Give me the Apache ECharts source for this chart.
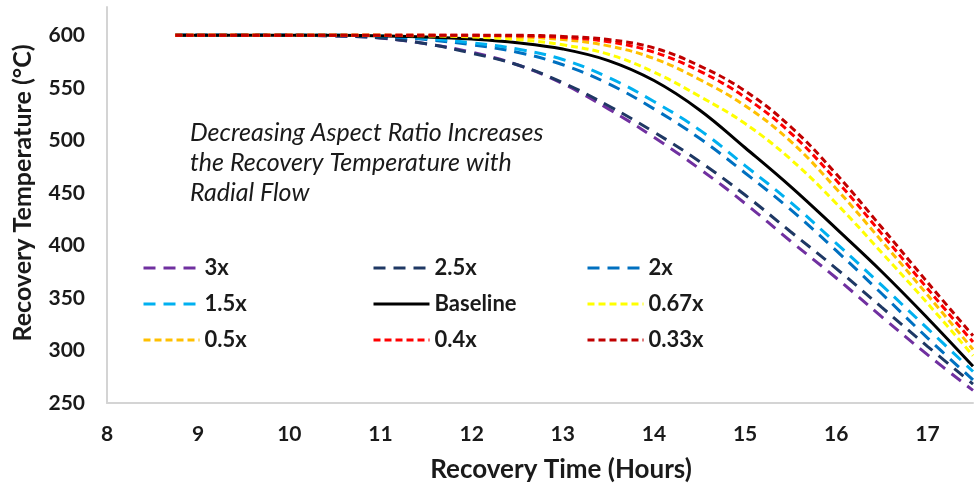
<!DOCTYPE html>
<html>
<head>
<meta charset="utf-8">
<script src="https://cdn.jsdelivr.net/npm/echarts@6/dist/echarts.min.js"></script>
<style>
  html, body { margin: 0; padding: 0; background: #fff; }
  #chart { width: 976px; height: 491px; }
</style>
</head>
<body>
<div id="chart"></div>
<script>
// 恢复时间（小时）
var hours = [8.75, 9, 9.5, 10, 10.5, 11, 11.5, 12, 12.5, 13, 13.5, 14, 14.5, 15, 15.5, 16, 16.5, 17, 17.5]

// 各纵横比下的恢复温度 (°C)
var temp3x     = [600, 600, 600, 600, 599.5, 597.5, 592, 584, 572, 554, 530, 503, 473, 440, 404, 369, 332, 296, 262]
var temp2_5x   = [600, 600, 600, 600, 599.5, 597.5, 592, 583, 572, 555, 533, 508, 480, 448, 413, 378, 341, 304, 268]
var temp2x     = [600, 600, 600, 600, 600, 599, 596, 591, 584, 572, 554, 530, 502, 469, 434, 395, 354, 312, 272]
var temp1_5x   = [600, 600, 600, 600, 600, 599.5, 597, 593, 587, 577, 560, 537, 510, 476, 441, 402, 362, 321, 280]
var tempBase   = [600, 600, 600, 600, 600, 599.5, 598.5, 596.5, 593, 587, 576, 557, 529, 493, 456, 416, 375, 331, 285]
var temp0_67x  = [600, 600, 600, 600, 600, 600, 599.5, 598.5, 596, 591, 582, 565, 542, 516, 482, 440, 393, 345, 295]
var temp0_5x   = [600, 600, 600, 600, 600, 600, 600, 599.5, 598.5, 596, 590, 578, 558, 533, 499, 454, 404, 353, 301]
var temp0_4x   = [600, 600, 600, 600, 600, 600, 600, 600, 599.5, 598, 594, 584, 566, 541, 507, 462, 411, 359, 308]
var temp0_33x  = [600, 600, 600, 600, 600, 600, 600, 600, 600, 599, 596, 588, 571, 547, 513, 468, 417, 365, 314]

var xTicks = [8, 9, 10, 11, 12, 13, 14, 15, 16, 17]
var yTicks = [250, 300, 350, 400, 450, 500, 550, 600]

var FONT = 'Lato, "Open Sans", sans-serif'
var longDash = [12, 8]
var shortDash = [7, 4]

function pairs(arr) {
  return hours.map(function (h, i) { return [h, arr[i]] })
}

function makeSeries(name, arr, color, dash) {
  return {
    name: name,
    type: 'line',
    data: pairs(arr),
    smooth: 0.4,
    symbol: 'none',
    color: color,
    lineStyle: { color: color, width: 3, type: dash },
    emphasis: { disabled: true }
  }
}

var chart = echarts.init(document.getElementById('chart'))

var legendBase = {
  orient: 'vertical',
  top: 257,
  padding: 0,
  itemWidth: 56,
  itemHeight: 14,
  itemGap: 14,
  itemStyle: { opacity: 0 },
  lineStyle: { width: 3 },
  textStyle: { fontFamily: FONT, fontSize: 22, fontWeight: 'bold', color: '#1a1a1a', lineHeight: 21 }
}

var option = {
  animation: false,
  backgroundColor: '#fff',
  grid: { left: 107, right: 0, top: 7, bottom: 88 },
  xAxis: {
    type: 'value',
    min: 8,
    max: 17.5,
    interval: 1,
    name: 'Recovery Time (Hours)',
    nameLocation: 'middle',
    nameGap: 54,
    nameTextStyle: { fontFamily: FONT, fontSize: 26, fontWeight: 'bold', color: '#1a1a1a', padding: [0, 0, 0, 42] },
    axisLine: { show: true, lineStyle: { color: '#d4d4d4', width: 2 } },
    axisTick: { show: false },
    splitLine: { show: false },
    axisLabel: {
      margin: 21,
      fontFamily: FONT, fontSize: 21, fontWeight: 'bold', color: '#1a1a1a',
      formatter: function (v) { return xTicks.indexOf(v) >= 0 ? String(v) : '' }
    }
  },
  yAxis: {
    type: 'value',
    min: 250,
    max: 627,
    interval: 50,
    name: 'Recovery Temperature (°C)',
    nameLocation: 'middle',
    nameGap: 72,
    nameTextStyle: { fontFamily: FONT, fontSize: 25, fontWeight: 'bold', color: '#1a1a1a', padding: [0, 0, 0, 24] },
    axisLine: { show: true, lineStyle: { color: '#d4d4d4', width: 2 } },
    axisTick: { show: false },
    splitLine: { show: false },
    axisLabel: {
      margin: 22,
      fontFamily: FONT, fontSize: 21, fontWeight: 'bold', color: '#1a1a1a',
      formatter: function (v) { return yTicks.indexOf(v) >= 0 ? String(v) : '' }
    }
  },
  legend: [
    Object.assign({}, legendBase, { left: 142, data: ['3x', '1.5x', '0.5x'] }),
    Object.assign({}, legendBase, { left: 372, data: ['2.5x', 'Baseline', '0.4x'] }),
    Object.assign({}, legendBase, { left: 586, data: ['2x', '0.67x', '0.33x'] })
  ],
  graphic: [{
    type: 'text',
    left: 190,
    top: 118,
    style: {
      text: 'Decreasing Aspect Ratio Increases\nthe Recovery Temperature with\nRadial Flow',
      font: 'italic 25px ' + FONT,
      lineHeight: 30,
      fill: '#1a1a1a'
    }
  }],
  series: [
    makeSeries('3x', temp3x, '#7030a0', longDash),
    makeSeries('2.5x', temp2_5x, '#1f3864', longDash),
    makeSeries('2x', temp2x, '#0070c0', longDash),
    makeSeries('1.5x', temp1_5x, '#00b0f0', longDash),
    makeSeries('Baseline', tempBase, '#000000', 'solid'),
    makeSeries('0.67x', temp0_67x, '#ffff00', shortDash),
    makeSeries('0.5x', temp0_5x, '#ffc000', shortDash),
    makeSeries('0.4x', temp0_4x, '#ff0000', shortDash),
    makeSeries('0.33x', temp0_33x, '#c00000', shortDash)
  ]
}

chart.setOption(option)
</script>
</body>
</html>
